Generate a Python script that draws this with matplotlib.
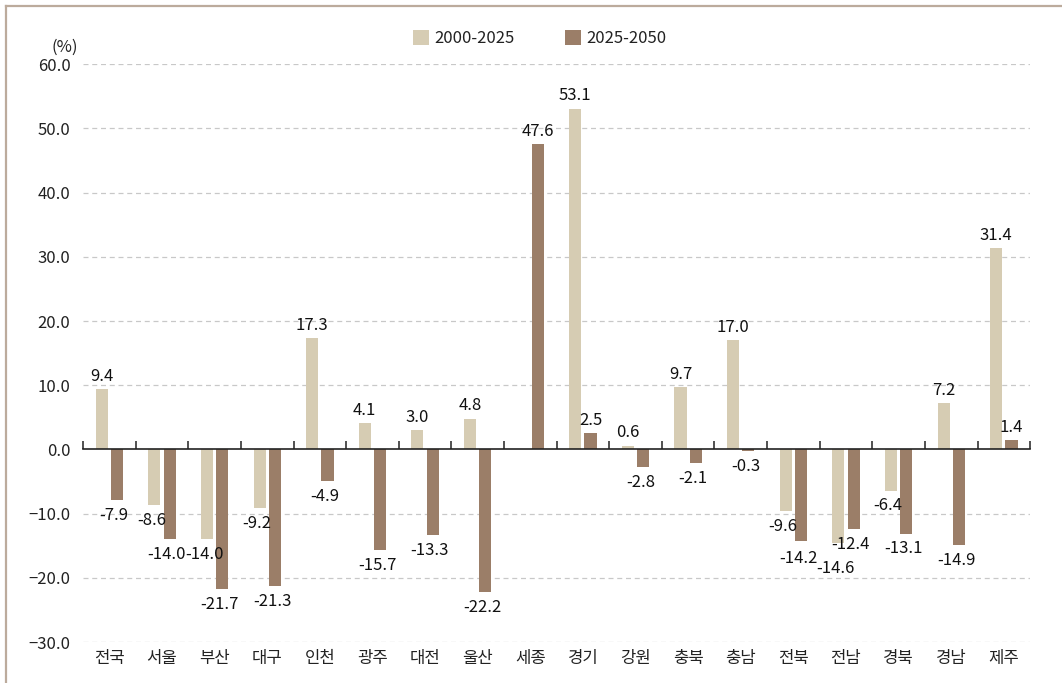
import matplotlib.pyplot as plt
import numpy as np
from matplotlib.lines import Line2D

plt.rcParams['font.family'] = ['Noto Sans CJK KR', 'DejaVu Sans']

regions = ['전국', '서울', '부산', '대구', '인천', '광주', '대전', '울산', '세종',
           '경기', '강원', '충북', '충남', '전북', '전남', '경북', '경남', '제주']
series_names = ['2000-2025', '2025-2050']
# 세종 has no 2000-2025 value
change_2000_2025 = [9.4, -8.6, -14.0, -9.2, 17.3, 4.1, 3.0, 4.8, np.nan,
                    53.1, 0.6, 9.7, 17.0, -9.6, -14.6, -6.4, 7.2, 31.4]
change_2025_2050 = [-7.9, -14.0, -21.7, -21.3, -4.9, -15.7, -13.3, -22.2, 47.6,
                    2.5, -2.8, -2.1, -0.3, -14.2, -12.4, -13.1, -14.9, 1.4]
y_ticks = [-30, -20, -10, 0, 10, 20, 30, 40, 50, 60]

LIGHT = '#d6ccb3'
DARK = '#9b7e68'
FRAME = '#bcab9c'

# extra downward shift (points) for labels that would collide
label_nudge = {(0, '전남'): -7, (1, '전북'): -2}

fig = plt.figure(figsize=(10.62, 6.83), dpi=100)
ax = fig.add_axes([0.0782, 0.060, 0.8918, 0.846])

x = np.arange(len(regions))
width = 0.23
offset = 0.145

ax.bar(x - offset, change_2000_2025, width, color=LIGHT, label=series_names[0], zorder=3)
ax.bar(x + offset, change_2025_2050, width, color=DARK, label=series_names[1], zorder=3)

for si, (xs, vals) in enumerate([(x - offset, change_2000_2025), (x + offset, change_2025_2050)]):
    for xi, v, name in zip(xs, vals, regions):
        if np.isnan(v):
            continue
        if v >= 0:
            ax.annotate(f'{v:.1f}', (xi, v), xytext=(0, 3), textcoords='offset points',
                        ha='center', va='bottom', fontsize=12, color='#111111')
        else:
            dy = -5 + label_nudge.get((si, name), 0)
            ax.annotate(f'{v:.1f}', (xi, v), xytext=(-2, dy), textcoords='offset points',
                        ha='center', va='top', fontsize=12, color='#111111')

ax.set_xlim(-0.5, len(regions) - 0.5)
ax.set_ylim(-30, 60)
ax.set_yticks(y_ticks)
ax.set_yticklabels([f'{t:.1f}'.replace('-', '\u2212') for t in y_ticks], fontsize=12, color='#222222')
ax.tick_params(axis='y', length=0, pad=9)

for t in y_ticks:
    if t != 0:
        ax.axhline(t, color='#c8c8c8', linestyle=(0, (4, 3)), linewidth=0.9, zorder=1)

for s in ['top', 'right', 'left']:
    ax.spines[s].set_visible(False)
ax.spines['bottom'].set_position(('data', 0))
ax.spines['bottom'].set_color('#222222')
ax.spines['bottom'].set_linewidth(1.2)
ax.spines['bottom'].set_zorder(4)
ax.set_xticks(np.arange(len(regions) + 1) - 0.5)
ax.set_xticklabels([])
ax.tick_params(axis='x', direction='in', length=6, width=1.1, color='#222222')

sec = ax.secondary_xaxis('bottom')
sec.set_xticks(x)
sec.set_xticklabels(regions, fontsize=12, color='#222222')
sec.tick_params(length=0, pad=6)
sec.spines['bottom'].set_visible(False)

ax.text(-0.005, 1.03, '(%)', transform=ax.transAxes, ha='right', va='center',
        fontsize=12, color='#222222')

leg = fig.legend(loc='center', bbox_to_anchor=(0.508, 0.944), ncol=2, frameon=False,
                 fontsize=12, handlelength=1.0, handleheight=1.0, handletextpad=0.3,
                 columnspacing=3.0)
for txt in leg.get_texts():
    txt.set_color('#222222')

fig.add_artist(Line2D([0.0056, 1.0], [0.991, 0.991], color=FRAME, linewidth=1.6))
fig.add_artist(Line2D([0.0056, 0.0056], [0.0, 0.991], color=FRAME, linewidth=1.6))

fig.savefig('out.png', dpi=100)
